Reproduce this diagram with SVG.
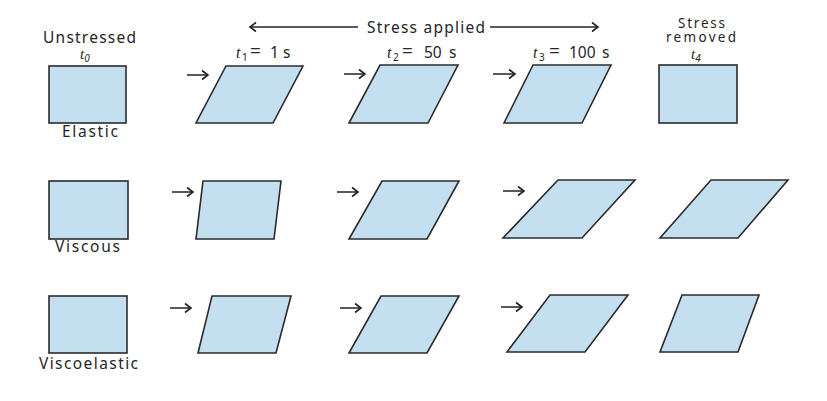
<svg xmlns="http://www.w3.org/2000/svg" width="827" height="401" viewBox="0 0 827 401">
<defs>
<marker id="ah" markerWidth="12" markerHeight="12" refX="10" refY="6" orient="auto" markerUnits="userSpaceOnUse">
<path d="M4,1.5 L10,6 L4,10.5" fill="none" stroke="#222" stroke-width="1.6" stroke-linejoin="miter"/>
</marker>
</defs>
<style>
.shape{fill:#c4dff0;stroke:#2b2b2b;stroke-width:1.6;stroke-linejoin:miter}
.lbl{font-family:"Noto Sans","Open Sans","Liberation Sans",sans-serif;font-size:15.5px;fill:#262626}
.sm{font-size:13.5px}
.mt{font-family:"Liberation Serif","DejaVu Serif",serif;font-style:italic;font-size:16px}
.mt0{font-family:"Liberation Serif","DejaVu Serif",serif;font-style:italic;font-size:15px;fill:#262626}
.sub{font-size:10px}
.eq{font-size:19px}
.conn{stroke:#222;stroke-width:1.5;fill:none;marker-end:url(#ah)}
</style>
<rect width="827" height="401" fill="#ffffff"/>

<g id="header">
<text class="lbl" x="367" y="33" textLength="118" lengthAdjust="spacing">Stress applied</text>
<text class="lbl sm" x="678" y="28" textLength="47" lengthAdjust="spacing">Stress</text>
<text class="lbl sm" x="666" y="42" textLength="70" lengthAdjust="spacing">removed</text>
<text class="lbl" x="43" y="43" textLength="93" lengthAdjust="spacing">Unstressed</text>
<text class="mt0" x="80" y="59">t<tspan class="lbl sub" dy="3">0</tspan></text>
<text class="lbl" y="58"><tspan class="mt" x="236">t</tspan><tspan class="sub" x="242" dy="3">1</tspan><tspan class="eq" x="250" dy="-3">=</tspan><tspan x="270">1</tspan><tspan x="283">s</tspan></text>
<text class="lbl" y="58"><tspan class="mt" x="387">t</tspan><tspan class="sub" x="393" dy="3">2</tspan><tspan class="eq" x="402" dy="-3">=</tspan><tspan x="424">50</tspan><tspan x="449">s</tspan></text>
<text class="lbl" y="58"><tspan class="mt" x="533">t</tspan><tspan class="sub" x="539" dy="3">3</tspan><tspan class="eq" x="549" dy="-3">=</tspan><tspan x="569">100</tspan><tspan x="602">s</tspan></text>
<text class="mt0" x="691" y="59">t<tspan class="lbl sub" dy="3">4</tspan></text>
</g>

<g id="elastic-t0"><rect class="shape" x="49" y="66" width="77" height="57"/><text class="lbl" x="62" y="137" textLength="56" lengthAdjust="spacing">Elastic</text></g>
<g id="elastic-t1"><polygon class="shape" points="226,66 303,66 273,123 196,123"/></g>
<g id="elastic-t2"><polygon class="shape" points="380,65 458,65 428,123 349,123"/></g>
<g id="elastic-t3"><polygon class="shape" points="533,65 611,65 582,123 504,123"/></g>
<g id="elastic-t4"><rect class="shape" x="659" y="65" width="78" height="58"/></g>

<g id="viscous-t0"><rect class="shape" x="49" y="181" width="79" height="58"/><text class="lbl" x="55" y="252" textLength="65" lengthAdjust="spacing">Viscous</text></g>
<g id="viscous-t1"><polygon class="shape" points="203,181 281,181 274,239 196,239"/></g>
<g id="viscous-t2"><polygon class="shape" points="382,181 459,181 427,239 349,239"/></g>
<g id="viscous-t3"><polygon class="shape" points="558,180 635,180 582,238 503,238"/></g>
<g id="viscous-t4"><polygon class="shape" points="711,180 788,180 738,238 660,238"/></g>

<g id="viscoelastic-t0"><rect class="shape" x="49" y="296" width="78" height="57"/><text class="lbl" x="39" y="369" textLength="99" lengthAdjust="spacing">Viscoelastic</text></g>
<g id="viscoelastic-t1"><polygon class="shape" points="212,296 291,296 276,353 198,353"/></g>
<g id="viscoelastic-t2"><polygon class="shape" points="381,296 459,296 427,353 349,353"/></g>
<g id="viscoelastic-t3"><polygon class="shape" points="550,295 628,295 585,352 507,352"/></g>
<g id="viscoelastic-t4"><polygon class="shape" points="682,295 759,295 738,352 660,352"/></g>

<g id="connectors">
<line class="conn" x1="358" y1="27" x2="250" y2="27"/>
<line class="conn" x1="490" y1="27" x2="598" y2="27"/>
<line class="conn" x1="187" y1="75" x2="208" y2="75"/>
<line class="conn" x1="344" y1="74" x2="365" y2="74"/>
<line class="conn" x1="493" y1="74" x2="515" y2="74"/>
<line class="conn" x1="172" y1="192" x2="193" y2="192"/>
<line class="conn" x1="337" y1="192" x2="358" y2="192"/>
<line class="conn" x1="503" y1="191" x2="524" y2="191"/>
<line class="conn" x1="170" y1="308" x2="191" y2="308"/>
<line class="conn" x1="340" y1="308" x2="361" y2="308"/>
<line class="conn" x1="501" y1="307" x2="522" y2="307"/>
</g>
</svg>
